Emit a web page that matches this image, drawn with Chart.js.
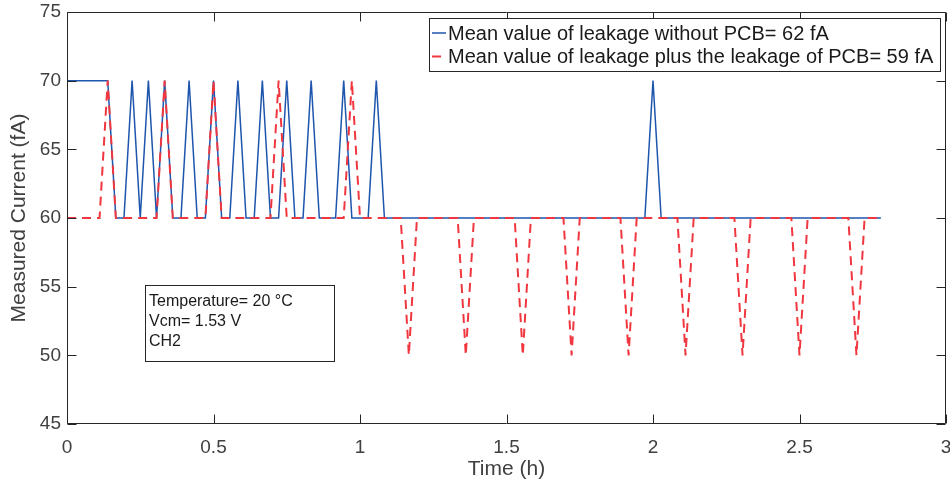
<!DOCTYPE html>
<html>
<head>
<meta charset="utf-8">
<script src="https://cdn.jsdelivr.net/npm/chart.js@4.4.1/dist/chart.umd.min.js"></script>
<style>
  html, body { margin: 0; padding: 0; background: #ffffff; }
  #wrap { width: 950px; height: 486px; }
</style>
</head>
<body>
<div id="wrap"><canvas id="c" width="950" height="486"></canvas></div>
<script>
// ---- data (time in hours, current in fA) ----
const timeHours = [
  0,0.0278,0.0556,0.0833,0.1111,0.1389,0.1667,0.1944,0.2222,0.25,0.2778,0.3056,0.3333,0.3611,0.3889,0.4167,0.4444,0.4722,
  0.5,0.5278,0.5556,0.5833,0.6111,0.6389,0.6667,0.6944,0.7222,0.75,0.7778,0.8056,0.8333,0.8611,0.8889,0.9167,0.9444,0.9722,
  1,1.0278,1.0556,1.0833,1.1111,1.1389,1.1667,1.1944,1.2222,1.25,1.2778,1.3056,1.3333,1.3611,1.3889,1.4167,1.4444,1.4722,
  1.5,1.5278,1.5556,1.5833,1.6111,1.6389,1.6667,1.6944,1.7222,1.75,1.7778,1.8056,1.8333,1.8611,1.8889,1.9167,1.9444,1.9722,
  2,2.0278,2.0556,2.0833,2.1111,2.1389,2.1667,2.1944,2.2222,2.25,2.2778,2.3056,2.3333,2.3611,2.3889,2.4167,2.4444,2.4722,
  2.5,2.5278,2.5556,2.5833,2.6111,2.6389,2.6667,2.6944,2.7222,2.75,2.7778
];
const leakageWithoutPCB = [
  70,70,70,70,70,70,60,60,70,60,70,60,70,60,60,70,60,60,
  70,60,60,70,60,60,70,60,60,70,60,60,70,60,60,60,70,60,
  60,60,70,60,60,60,60,60,60,60,60,60,60,60,60,60,60,60,
  60,60,60,60,60,60,60,60,60,60,60,60,60,60,60,60,60,60,
  70,60,60,60,60,60,60,60,60,60,60,60,60,60,60,60,60,60,
  60,60,60,60,60,60,60,60,60,60,60
];
const leakagePlusPCB = [
  60,60,60,60,60,70,60,60,60,60,60,60,70,60,60,60,60,60,
  70,60,60,60,60,60,60,60,70,60,60,60,60,60,60,60,60,70,
  60,60,60,60,60,60,50,60,60,60,60,60,60,50,60,60,60,60,
  60,60,50,60,60,60,60,60,50,60,60,60,60,60,60,50,60,60,
  60,60,60,60,50,60,60,60,60,60,60,50,60,60,60,60,60,60,
  50,60,60,60,60,60,60,50,60,60,60
];
const seriesLabels = [
  'Mean value of leakage without PCB= 62 fA',
  'Mean value of leakage plus the leakage of PCB= 59 fA'
];
const annotationLines = ['Temperature= 20 \u00B0C', 'Vcm= 1.53 V', 'CH2'];
const xTitle = 'Time (h)';
const yTitle = 'Measured Current (fA)';

// ---- styling ----
const FONT = "'Liberation Sans', Arial, Helvetica, sans-serif";
const AXIS_COLOR = '#262626';
const TEXT_COLOR = '#404040';
const BLUE = '#1f56ad';
const RED = '#f0363f';

function toPoints(xs, ys) { return xs.map((x, i) => ({ x: x, y: ys[i] })); }

const boxPlugin = {
  id: 'matlabBox',
  afterDatasetsDraw(chart) {
    const ctx = chart.ctx, a = chart.chartArea;
    const xs = chart.scales.x, ys = chart.scales.y;
    ctx.save();
    ctx.strokeStyle = AXIS_COLOR;
    ctx.lineWidth = 1;
    ctx.setLineDash([]);
    const L = Math.round(a.left) + 0.5, R = Math.round(a.right) - 0.5;
    const T = Math.round(a.top) + 0.5, B = Math.round(a.bottom) - 0.5;
    ctx.beginPath();
    ctx.rect(L, T, R - L, B - T);
    ctx.stroke();
    const tl = 9;
    ctx.beginPath();
    xs.ticks.forEach(t => {
      const px = Math.round(xs.getPixelForValue(t.value)) + 0.5;
      ctx.moveTo(px, B); ctx.lineTo(px, B - tl);
      ctx.moveTo(px, T); ctx.lineTo(px, T + tl);
    });
    ys.ticks.forEach(t => {
      const py = Math.round(ys.getPixelForValue(t.value)) + 0.5;
      ctx.moveTo(L, py); ctx.lineTo(L + tl, py);
      ctx.moveTo(R, py); ctx.lineTo(R - tl, py);
    });
    ctx.stroke();

    // annotation box
    const ax0 = a.left + 78, ay0 = 285, aw = 189, ah = 76;
    ctx.fillStyle = '#ffffff';
    ctx.fillRect(ax0, ay0, aw, ah);
    ctx.strokeStyle = AXIS_COLOR;
    ctx.strokeRect(Math.round(ax0) + 0.5, ay0 + 0.5, aw, ah);
    ctx.fillStyle = '#1a1a1a';
    ctx.font = '16px ' + FONT;
    ctx.textAlign = 'left';
    ctx.textBaseline = 'alphabetic';
    annotationLines.forEach((s, i) => ctx.fillText(s, ax0 + 4, ay0 + 21 + i * 19.8));

    // legend
    const lw = 511, lh = 53;
    const lx = Math.round(a.right - 6 - lw), ly = Math.round(a.top + 6);
    ctx.fillStyle = '#ffffff';
    ctx.fillRect(lx, ly, lw, lh);
    ctx.strokeStyle = '#262626';
    ctx.strokeRect(lx + 0.5, ly + 0.5, lw, lh);
    ctx.font = '20px ' + FONT;
    ctx.textBaseline = 'middle';
    chart.data.datasets.forEach((ds, i) => {
      const cy = ly + 16 + i * 23.5;
      ctx.strokeStyle = ds.borderColor;
      ctx.lineWidth = ds.borderWidth;
      ctx.setLineDash(ds.borderDash || []);
      ctx.beginPath();
      ctx.moveTo(lx + 3, cy - 1);
      ctx.lineTo(lx + 17, cy - 1);
      ctx.stroke();
      ctx.setLineDash([]);
      ctx.fillStyle = '#1a1a1a';
      ctx.fillText(ds.label, lx + 19, cy);
    });
    ctx.restore();
  }
};

new Chart(document.getElementById('c'), {
  type: 'scatter',
  data: {
    datasets: [
      {
        label: seriesLabels[0],
        data: toPoints(timeHours, leakageWithoutPCB),
        showLine: true,
        borderColor: BLUE,
        backgroundColor: BLUE,
        borderWidth: 1.5,
        pointRadius: 0,
        tension: 0,
        order: 1
      },
      {
        label: seriesLabels[1],
        data: toPoints(timeHours, leakagePlusPCB),
        showLine: true,
        borderColor: RED,
        backgroundColor: RED,
        borderWidth: 2,
        borderDash: [9, 6],
        pointRadius: 0,
        tension: 0,
        order: 0
      }
    ]
  },
  options: {
    responsive: false,
    animation: false,
    devicePixelRatio: 1,
    layout: { padding: { top: 12, right: 4, left: 0, bottom: 0 } },
    plugins: { legend: { display: false }, tooltip: { enabled: false } },
    scales: {
      x: {
        type: 'linear',
        min: 0, max: 3,
        grid: { display: false, drawTicks: false },
        border: { display: false },
        ticks: {
          stepSize: 0.5,
          color: TEXT_COLOR,
          font: { family: FONT, size: 19 },
          padding: 12,
          maxRotation: 0,
          autoSkip: false,
          callback: (v) => String(Math.round(v * 10) / 10)
        },
        title: {
          display: true,
          text: xTitle,
          color: TEXT_COLOR,
          font: { family: FONT, size: 21 },
          padding: { top: 0, bottom: 4 }
        },
        afterFit(scale) {
          scale.height = 62;
          scale.paddingLeft = 0; scale.paddingRight = 0;
        }
      },
      y: {
        type: 'linear',
        min: 45, max: 75,
        grid: { display: false, drawTicks: false },
        border: { display: false },
        ticks: {
          stepSize: 5,
          color: TEXT_COLOR,
          font: { family: FONT, size: 19 },
          padding: 6,
          callback: (v) => String(v)
        },
        title: {
          display: true,
          text: yTitle,
          color: TEXT_COLOR,
          font: { family: FONT, size: 21 },
          padding: { top: 7, bottom: 0 }
        },
        afterFit(scale) {
          scale.width = 67;
          scale.paddingTop = 0; scale.paddingBottom = 0;
        }
      }
    }
  },
  plugins: [boxPlugin]
});
</script>
</body>
</html>
